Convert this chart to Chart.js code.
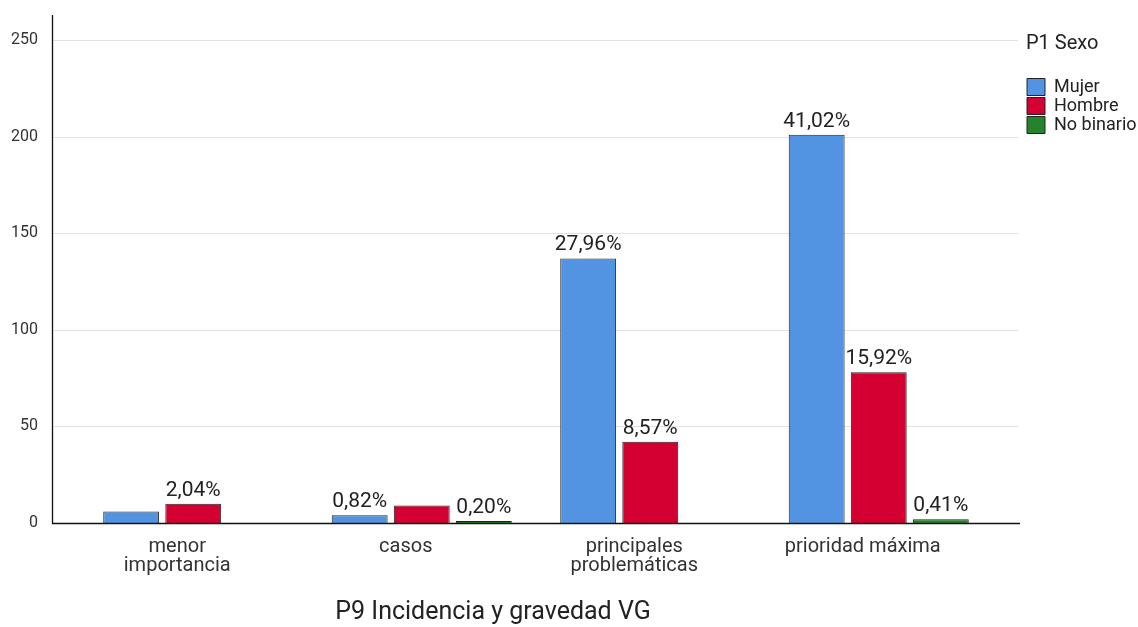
<!DOCTYPE html>
<html>
<head>
<meta charset="utf-8">
<title>P9 Incidencia y gravedad VG</title>
<script src="https://cdn.jsdelivr.net/npm/chart.js@4.4.1/dist/chart.umd.min.js"></script>
<style>
  html, body { margin: 0; padding: 0; background: #fff; }
  #wrap { width: 1138px; height: 627px; position: relative; }
</style>
</head>
<body>
<div id="wrap"><canvas id="chart"></canvas></div>
<script>
const categories = [['menor', 'importancia'], 'casos', ['principales', 'problemáticas'], 'prioridad máxima'];
const mujer = [6, 4, 137, 201];
const hombre = [10, 9, 42, 78];
const noBinario = [0, 1, 0, 2];
// percent labels printed over the bars (null = not printed in the original)
const mujerPct = [null, '0,82%', '27,96%', '41,02%'];
const hombrePct = ['2,04%', null, '8,57%', '15,92%'];
const noBinarioPct = [null, '0,20%', null, '0,41%'];
const yTicks = [0, 50, 100, 150, 200, 250];
const chartTitle = 'P9 Incidencia y gravedad VG';

Chart.defaults.font.family = 'Roboto';

// light grid lines + the two axis lines, a bit wider than the bar area
const gridAndAxes = {
    id: 'gridAndAxes',
    beforeDatasetsDraw(chart) {
        const { ctx, chartArea, scales: { y } } = chart;
        const x0 = chartArea.left - 27, x1 = chartArea.right + 25;
        ctx.save();
        ctx.lineWidth = 1;
        ctx.strokeStyle = '#e2e2e2';
        y.ticks.forEach(t => {
            if (t.value === 0) return;
            const py = Math.round(y.getPixelForValue(t.value)) + 0.5;
            ctx.beginPath();
            ctx.moveTo(x0, py);
            ctx.lineTo(x1, py);
            ctx.stroke();
        });
        ctx.restore();
    },
    afterDatasetsDraw(chart) {
        const { ctx, chartArea, scales: { y } } = chart;
        const x0 = chartArea.left - 27 + 0.5, x1 = chartArea.right + 27;
        const base = Math.round(y.getPixelForValue(0)) + 0.5;
        ctx.save();
        ctx.lineWidth = 1.3;
        ctx.strokeStyle = '#111';
        ctx.beginPath();
        ctx.moveTo(x0, chartArea.top);
        ctx.lineTo(x0, base);
        ctx.lineTo(x1, base);
        ctx.stroke();
        ctx.restore();
    }
};

const pctLabels = [mujerPct, hombrePct, noBinarioPct];
const barLabels = {
    id: 'barLabels',
    afterDatasetsDraw(chart) {
        const ctx = chart.ctx;
        ctx.save();
        ctx.font = '21px Roboto';
        ctx.fillStyle = '#222';
        ctx.textAlign = 'center';
        ctx.textBaseline = 'alphabetic';
        chart.data.datasets.forEach((ds, i) => {
            chart.getDatasetMeta(i).data.forEach((bar, j) => {
                const txt = pctLabels[i][j];
                if (txt) ctx.fillText(txt, bar.x, bar.y - 8);
            });
        });
        ctx.restore();
    }
};

const bottomTitle = {
    id: 'bottomTitle',
    afterDraw(chart) {
        const { ctx, chartArea } = chart;
        ctx.save();
        ctx.font = '25px Roboto';
        ctx.fillStyle = '#222';
        ctx.textAlign = 'center';
        ctx.textBaseline = 'alphabetic';
        ctx.fillText(chartTitle, (chartArea.left + chartArea.right) / 2 - 43, chart.height - 8);
        ctx.restore();
    }
};

function noPad(s) {
    s.paddingTop = 0;
    s.paddingBottom = 0;
    s.paddingLeft = 0;
    s.paddingRight = 0;
}

new Chart(document.getElementById('chart'), {
    type: 'bar',
    data: {
        labels: categories,
        datasets: [
            { label: 'Mujer', data: mujer, backgroundColor: '#5394e2' },
            { label: 'Hombre', data: hombre, backgroundColor: '#d50032' },
            { label: 'No binario', data: noBinario, backgroundColor: '#24832c' }
        ]
    },
    options: {
        responsive: true,
        maintainAspectRatio: false,
        animation: false,
        layout: { padding: { top: 15, left: 0, right: 0, bottom: 0 } },
        datasets: {
            bar: { borderColor: '#222', borderWidth: 1, barPercentage: 0.9, categoryPercentage: 0.815 }
        },
        plugins: {
            legend: {
                position: 'right',
                align: 'start',
                maxWidth: 112,
                title: {
                    display: true,
                    text: 'P1 Sexo',
                    position: 'start',
                    color: '#222',
                    font: { size: 20 },
                    padding: { top: 19, bottom: 19 }
                },
                labels: { boxWidth: 18, boxHeight: 17, padding: 1, color: '#222', font: { size: 18 } }
            },
            tooltip: { enabled: false }
        },
        scales: {
            x: {
                grid: { display: false, drawTicks: false },
                border: { display: false },
                ticks: {
                    color: '#333',
                    font: { size: 20, lineHeight: 0.95 },
                    padding: 14,
                    labelOffset: -16,
                    maxRotation: 0,
                    autoSkip: false
                },
                afterFit: s => { noPad(s); s.height = 104; }
            },
            y: {
                min: 0,
                max: 263,
                grid: { display: false, drawTicks: false },
                border: { display: false },
                ticks: { color: '#333', font: { size: 16 }, padding: 41, includeBounds: false },
                afterBuildTicks: s => { s.ticks = yTicks.map(v => ({ value: v })); },
                afterFit: s => { noPad(s); s.width = 79; }
            },
            spacer: {
                position: 'right',
                display: true,
                grid: { display: false, drawTicks: false },
                border: { display: false },
                ticks: { display: false },
                afterFit: s => { noPad(s); s.width = 33; }
            }
        }
    },
    plugins: [gridAndAxes, barLabels, bottomTitle]
});
</script>
</body>
</html>
